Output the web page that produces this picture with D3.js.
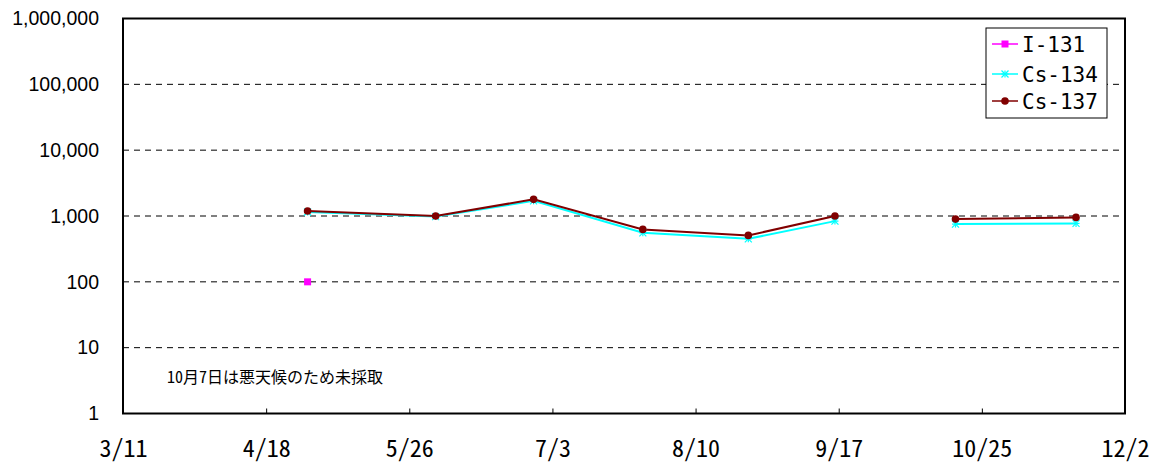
<!DOCTYPE html>
<html>
<head>
<meta charset="utf-8">
<script src="https://cdn.jsdelivr.net/npm/d3@7"></script>
<style>
  html, body { margin: 0; padding: 0; background: #fff; }
  svg { display: block; }
  .gothic { font-family: "Noto Sans Mono CJK JP", "Noto Sans CJK JP", sans-serif; font-feature-settings: "hwid" 1; }
  .mono { font-family: "DejaVu Sans Mono", monospace; }
</style>
</head>
<body>
<svg id="chart" width="1163" height="468"></svg>
<script>
// Sampling dates (2011) and measured activities; null = not detected / not sampled
const sampleDates = ["2011-04-29", "2011-06-02", "2011-06-28", "2011-07-27", "2011-08-24", "2011-09-16", null, "2011-10-18", "2011-11-19"];
const i131  = [100, null, null, null, null, null, null, null, null];
const cs134 = [1150, 980, 1700, 555, 450, 836, null, 753, 771];
const cs137 = [1190, 1000, 1790, 626, 507, 1000, null, 897, 952];

const xTickLabels = ["3/11", "4/18", "5/26", "7/3", "8/10", "9/17", "10/25", "12/2"];
const yTickValues = [1, 10, 100, 1000, 10000, 100000, 1000000];
const note = "10月7日は悪天候のため未採取";

const seriesNames = ["I-131", "Cs-134", "Cs-137"];
const seriesColors = ["#ff00ff", "#00ffff", "#800000"];

const svg = d3.select("#chart");
const margin = { left: 123, right: 1125, top: 18.5, bottom: 413.5 };
const parse = d3.timeParse("%Y-%m-%d");

const start = parse("2011-03-11");
const end = parse("2011-12-02");
const x = d3.scaleTime().domain([start, end]).range([margin.left, margin.right]);
const y = d3.scaleLog().domain([1, 1000000]).range([margin.bottom, margin.top]);

const tickDates = xTickLabels.map((_, i) => d3.timeDay.offset(start, i * 38));

// horizontal dashed grid lines
svg.append("g").selectAll("line")
  .data(yTickValues.filter(v => v > 1 && v < 1000000))
  .join("line")
  .attr("x1", margin.left).attr("x2", margin.right)
  .attr("y1", d => y(d)).attr("y2", d => y(d))
  .attr("stroke", "#000").attr("stroke-width", 1)
  .attr("stroke-dasharray", "6,5");

// plot frame
svg.append("rect")
  .attr("x", margin.left).attr("y", margin.top)
  .attr("width", margin.right - margin.left)
  .attr("height", margin.bottom - margin.top)
  .attr("fill", "none").attr("stroke", "#000").attr("stroke-width", 2);

// y axis labels
const yAxis = d3.axisLeft(y).tickValues(yTickValues).tickFormat(d3.format(",")).tickSize(0).tickPadding(0);
const gy = svg.append("g").attr("transform", `translate(${margin.left - 24},0)`).call(yAxis);
gy.select(".domain").remove();
gy.selectAll("text")
  .attr("font-family", "Liberation Sans, Arial, sans-serif")
  .attr("font-size", 19.5).attr("fill", "#000");

// x axis: inward ticks and labels below
const xAxis = d3.axisBottom(x).tickValues(tickDates).tickFormat((d, i) => xTickLabels[i]).tickSize(-5).tickPadding(0);
const gx = svg.append("g").attr("transform", `translate(0,${margin.bottom})`).call(xAxis);
gx.select(".domain").remove();
gx.selectAll(".tick line").attr("stroke", "#000");
gx.selectAll("text")
  .attr("class", "gothic")
  .attr("y", 43.5).attr("dy", null)
  .attr("font-size", 24).attr("fill", "#000");

// data series
const seriesData = [i131, cs134, cs137].map(vals =>
  vals.map((v, i) => ({ date: sampleDates[i] ? parse(sampleDates[i]) : null, v })));

const line = d3.line()
  .defined(d => d.v != null && d.date != null)
  .x(d => x(d.date)).y(d => y(d.v));

// draw Cs-134 first, then Cs-137 on top, then I-131
[1, 2, 0].forEach(si => {
  svg.append("path")
    .datum(seriesData[si])
    .attr("fill", "none")
    .attr("stroke", seriesColors[si])
    .attr("stroke-width", 2)
    .attr("d", line);
});

function drawMarker(g, si, cx, cy) {
  const c = seriesColors[si];
  if (si === 0) {
    g.append("rect").attr("x", cx - 3.5).attr("y", cy - 3.5).attr("width", 7).attr("height", 7).attr("fill", c);
  } else if (si === 1) {
    const r = 3.5;
    [[-r, 0, r, 0], [0, -r, 0, r], [-r, -r, r, r], [-r, r, r, -r]].forEach(s => {
      g.append("line").attr("x1", cx + s[0]).attr("y1", cy + s[1]).attr("x2", cx + s[2]).attr("y2", cy + s[3])
        .attr("stroke", c).attr("stroke-width", 1.2);
    });
  } else {
    g.append("circle").attr("cx", cx).attr("cy", cy).attr("r", 3.8).attr("fill", c);
  }
}

const markers = svg.append("g");
[1, 2, 0].forEach(si => {
  seriesData[si].filter(d => d.v != null && d.date != null).forEach(d => {
    drawMarker(markers, si, x(d.date), y(d.v));
  });
});

// note
svg.append("text")
  .attr("class", "gothic")
  .attr("x", 167).attr("y", 383)
  .attr("font-size", 16).attr("fill", "#000")
  .text(note);

// legend
const lg = svg.append("g");
lg.append("rect").attr("x", 986).attr("y", 28).attr("width", 121).attr("height", 90)
  .attr("fill", "#fff").attr("stroke", "#000").attr("stroke-width", 1);
const legendY = [44, 74, 101];
seriesNames.forEach((name, si) => {
  const ly = legendY[si];
  lg.append("line").attr("x1", 992).attr("x2", 1018).attr("y1", ly).attr("y2", ly)
    .attr("stroke", seriesColors[si]).attr("stroke-width", 1.5);
  drawMarker(lg, si, 1005, ly);
  lg.append("text").attr("class", "mono")
    .attr("x", 1022).attr("y", ly + 7.5)
    .attr("font-size", 21).attr("fill", "#000").text(name);
});
</script>
</body>
</html>
